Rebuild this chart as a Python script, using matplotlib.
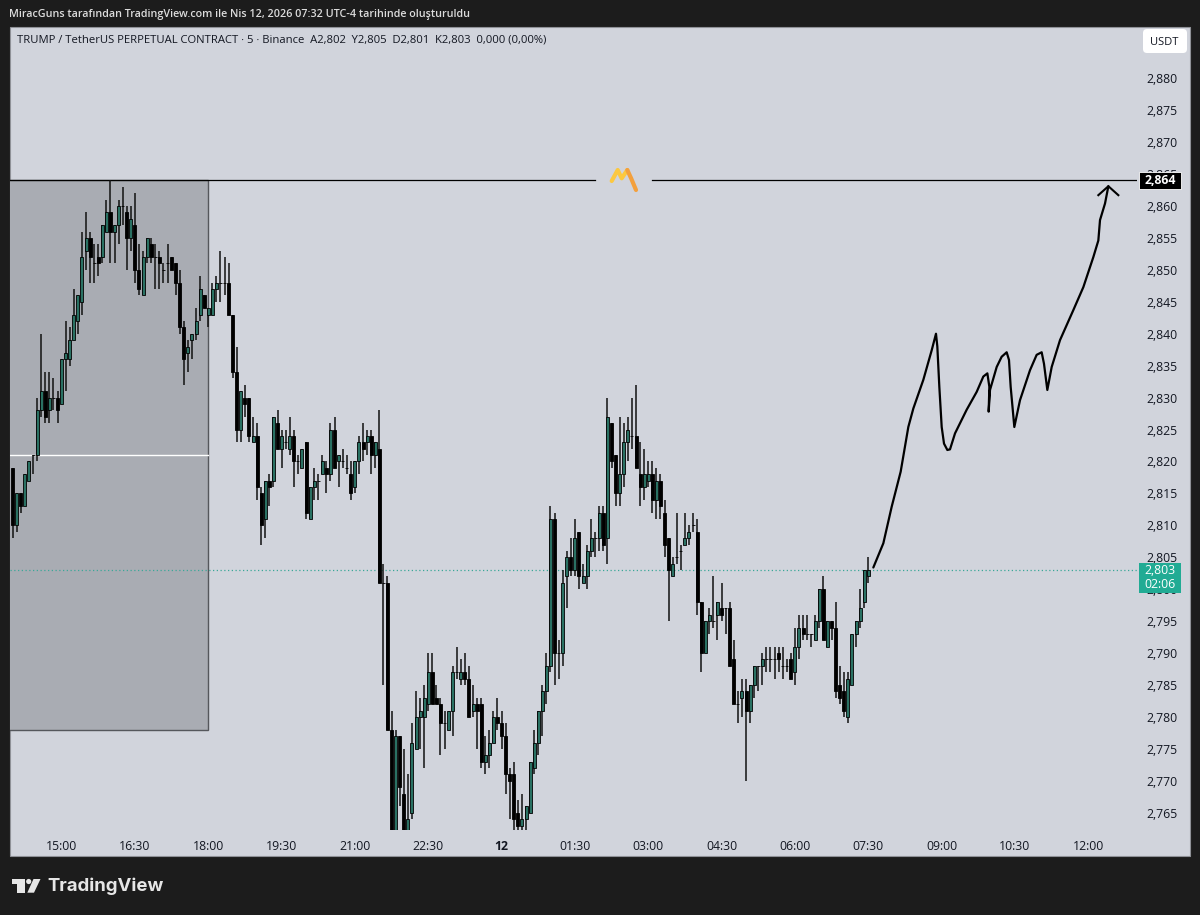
import matplotlib
matplotlib.use("Agg")
import matplotlib.pyplot as plt
from matplotlib.patches import Rectangle, Polygon, FancyBboxPatch, Circle
import numpy as np

# fiyatlar binde bir (2819 = 2,819), her mum 5 dakika, ilk mum 14:00
opens = [
    2819,2810,2815,2813,2817,2821,2821,2828,2831,2828,2830,2830,2829,2836,2836,2839,2842,2845,2853,2855,
    2851,2852,2852,2856,2859,2856,2857,2860,2859,2855,2857,2850,2846,2852,2854,2852,2852,2850,2851,2852,
    2851,2848,2841,2837,2839,2840,2843,2846,2843,2843,2847,2848,2848,2848,2843,2834,2825,2830,2830,2823,
    2824,2815,2811,2817,2817,2826,2822,2823,2822,2824,2820,2819,2823,2811,2816,2817,2818,2819,2818,2825,
    2820,2820,2819,2818,2816,2820,2823,2823,2824,2821,2822,2801,2801,2778,2760,2777,2768,2761,2765,2775,
    2780,2780,2782,2787,2783,2782,2779,2778,2781,2787,2786,2787,2786,2781,2782,2782,2773,2774,2776,2780,
    2779,2777,2771,2771,2765,2763,2764,2765,2772,2776,2781,2784,2788,2811,2790,2790,2802,2805,2803,2809,
    2801,2802,2806,2808,2808,2812,2808,2826,2821,2815,2818,2823,2824,2824,2818,2816,2817,2818,2814,2817,
    2812,2808,2802,2805,2806,2807,2808,2810,2809,2798,2790,2795,2795,2796,2797,2797,2797,2789,2782,2783,
    2784,2781,2785,2788,2788,2789,2789,2789,2790,2788,2788,2789,2787,2791,2794,2793,2793,2792,2795,2800,
    2791,2795,2794,2785,2784,2780,2785,2793,2795,2798,2802]
highs = [
    2819,2815,2815,2818,2820,2821,2830,2840,2834,2834,2833,2831,2836,2842,2841,2847,2846,2856,2859,2856,
    2854,2854,2857,2861,2864,2857,2861,2863,2860,2860,2862,2854,2853,2855,2855,2854,2853,2851,2854,2852,
    2851,2850,2842,2839,2840,2844,2849,2846,2844,2848,2849,2853,2852,2851,2843,2838,2831,2832,2830,2827,
    2826,2816,2817,2818,2827,2828,2825,2825,2827,2825,2821,2822,2823,2816,2819,2818,2821,2820,2826,2827,
    2821,2822,2821,2820,2820,2824,2826,2825,2825,2823,2828,2804,2802,2781,2778,2777,2775,2771,2779,2784,
    2783,2785,2790,2790,2785,2783,2781,2781,2788,2791,2789,2790,2788,2785,2783,2783,2777,2778,2781,2783,
    2781,2779,2772,2773,2767,2768,2766,2773,2778,2781,2785,2790,2813,2812,2792,2803,2806,2808,2811,2809,
    2804,2807,2811,2809,2813,2813,2830,2826,2821,2827,2826,2827,2830,2832,2823,2822,2820,2820,2819,2818,
    2814,2808,2805,2812,2807,2812,2810,2812,2811,2798,2795,2797,2802,2798,2801,2797,2798,2792,2784,2786,
    2786,2785,2788,2788,2790,2791,2791,2791,2791,2791,2789,2790,2794,2796,2796,2796,2793,2796,2800,2802,
    2795,2795,2798,2788,2787,2787,2793,2795,2800,2803,2805]
lows = [
    2808,2809,2812,2813,2817,2818,2820,2827,2826,2826,2828,2826,2829,2831,2835,2839,2840,2843,2850,2848,
    2848,2849,2851,2856,2851,2851,2854,2857,2850,2853,2848,2846,2846,2851,2851,2847,2847,2848,2848,2850,
    2846,2840,2832,2834,2836,2839,2842,2844,2841,2843,2845,2845,2846,2843,2833,2823,2823,2827,2823,2823,
    2814,2807,2808,2813,2816,2822,2819,2822,2821,2816,2818,2819,2811,2811,2814,2814,2818,2815,2817,2819,
    2816,2819,2818,2814,2815,2818,2820,2821,2818,2819,2801,2785,2778,2758,2760,2766,2760,2760,2764,2775,
    2775,2772,2781,2782,2782,2774,2775,2778,2777,2786,2785,2785,2780,2780,2775,2772,2771,2772,2776,2778,
    2775,2768,2764,2762,2762,2762,2762,2765,2771,2774,2777,2782,2787,2785,2786,2788,2797,2802,2802,2800,
    2801,2800,2805,2805,2806,2806,2804,2819,2813,2813,2816,2820,2822,2819,2813,2814,2816,2812,2811,2811,
    2805,2795,2802,2804,2803,2807,2807,2809,2796,2787,2790,2793,2794,2792,2795,2793,2788,2782,2779,2780,
    2770,2779,2783,2784,2785,2787,2787,2786,2787,2786,2787,2786,2785,2789,2792,2792,2791,2792,2794,2792,
    2791,2792,2783,2782,2780,2779,2785,2791,2794,2797,2801]
closes = [
    2810,2815,2813,2818,2820,2821,2828,2831,2827,2830,2830,2828,2836,2837,2839,2843,2846,2852,2855,2852,
    2851,2851,2857,2859,2856,2857,2860,2860,2855,2858,2850,2847,2852,2855,2852,2852,2851,2850,2851,2850,
    2848,2841,2836,2838,2840,2842,2847,2844,2844,2847,2848,2848,2848,2843,2834,2825,2831,2829,2824,2824,
    2816,2810,2817,2816,2827,2822,2824,2823,2824,2820,2820,2822,2812,2816,2817,2817,2820,2818,2825,2819,
    2821,2820,2819,2815,2820,2823,2822,2824,2821,2823,2801,2801,2778,2760,2777,2769,2760,2764,2776,2780,
    2781,2783,2787,2782,2782,2779,2779,2781,2787,2787,2787,2786,2780,2782,2781,2773,2774,2776,2780,2779,
    2777,2771,2770,2764,2763,2764,2766,2773,2776,2781,2784,2788,2811,2790,2790,2801,2805,2803,2808,2802,
    2802,2806,2808,2808,2812,2807,2827,2820,2815,2818,2823,2825,2824,2819,2816,2818,2818,2814,2817,2813,
    2807,2803,2804,2805,2806,2808,2809,2810,2798,2790,2795,2796,2795,2798,2796,2797,2788,2782,2782,2784,
    2781,2785,2788,2788,2789,2789,2789,2789,2789,2788,2788,2786,2791,2794,2793,2793,2793,2795,2800,2792,
    2795,2794,2784,2783,2781,2786,2793,2795,2797,2803,2803]

time_ticks = [12, 30, 48, 66, 84, 102, 120, 138, 156, 174, 192, 210, 228, 246, 264]
time_labels = ["15:00", "16:30", "18:00", "19:30", "21:00", "22:30", "12", "01:30",
               "03:00", "04:30", "06:00", "07:30", "09:00", "10:30", "12:00"]
price_ticks = list(range(2765, 2885, 5))

level_price = 2864
last_price = 2803
box_start, box_end = -2, 48
box_top, box_bottom = 2864, 2778
box_mid = 2821
level_gap = [142.9, 156.9]

# elle cizilen ok (mum sirasi, fiyat)
draw_x = [211.25, 213.71, 215.75, 217.96, 219.84, 221.07, 223.53, 225.57, 226.63, 226.96, 227.45, 228.03,
          228.6, 229.42, 230.07, 231.3, 234.16, 236.62, 238.25, 239.24, 239.73, 239.56, 239.89, 241.53,
          242.75, 243.98, 244.55, 244.96, 245.86, 247.25, 249.71, 251.34, 252.57, 253.14, 253.96, 255.03,
          257.07, 260.34, 262.8, 265.25, 266.48, 266.89, 268.12, 268.94]
draw_y = [2803.4, 2807.2, 2812.9, 2818.4, 2825.4, 2828.3, 2832.8, 2837.4, 2840.0, 2838, 2831.7, 2825.4,
          2822.8, 2821.8, 2821.9, 2824.4, 2828.1, 2830.9, 2833.3, 2833.8, 2831.7, 2827.8, 2831.2, 2834.8,
          2836.4, 2837.1, 2835.9, 2831.7, 2825.4, 2829.6, 2834.3, 2836.7, 2837.1, 2835.3, 2831.2, 2834.8,
          2839, 2843.7, 2847.3, 2852, 2854.6, 2857.8, 2860.4, 2863.1]
head_x = [266.48, 268.94, 271.39]
head_y = [2861.7, 2863.1, 2861.7]

dark = "#1c1c1c"
pane = "#d1d4dc"
teal = "#2a7163"
text_col = "#131722"
W, H = 1200, 915

plt.rcParams['font.family'] = ['Open Sans', 'DejaVu Sans']

fig = plt.figure(figsize=(12, 9.15), dpi=100, facecolor=dark)
fig.add_artist(Rectangle((10 / W, 1 - 856 / H), 1180 / W, 829 / H, transform=fig.transFigure,
                         facecolor=pane, edgecolor="#8f9197", linewidth=0.8, zorder=-1))

ax = fig.add_axes([10 / W, 1 - 830 / H, 1127 / W, 803 / H])
ax.patch.set_alpha(0)
ax.set_xlim(-0.66, 275.97)
ax.set_ylim(2762.3, 2888.03)
for s in ax.spines.values():
    s.set_visible(False)

ax.add_patch(Rectangle((box_start, box_bottom), box_end - box_start, box_top - box_bottom,
                       facecolor="#a9acb3", edgecolor="#55575c", linewidth=1, zorder=1))
ax.plot([box_start, box_end], [box_mid, box_mid], color="white", linewidth=1, zorder=1.5)
ax.plot([-0.66, level_gap[0]], [level_price, level_price], color="black", linewidth=0.9, zorder=1.6)
ax.plot([level_gap[1], 275.97], [level_price, level_price], color="black", linewidth=0.9, zorder=1.6)
ax.axhline(last_price, color="#3aa898", linewidth=0.9, linestyle=(0, (1, 2)), zorder=1.7)

x = np.arange(len(opens))
o = np.array(opens)
c = np.array(closes)
ax.vlines(x, lows, highs, color="#111111", linewidth=1.1, zorder=2)
colors = [teal if b > a else "black" for a, b in zip(o, c)]
ax.bar(x, c - o, bottom=o, width=0.74, color=colors, edgecolor="black", linewidth=0.6, zorder=3)

ax.plot(draw_x, draw_y, color="black", linewidth=1.6, solid_joinstyle="round", solid_capstyle="round", zorder=4)
ax.plot(head_x, head_y, color="black", linewidth=1.5, solid_joinstyle="miter", zorder=4)

ax.set_xticks(time_ticks)
ax.set_xticklabels(time_labels)
ax.tick_params(axis="x", length=0, pad=7, labelsize=8.8, labelcolor=text_col)
ax.get_xticklabels()[6].set_fontweight("bold")
ax.yaxis.tick_right()
ax.set_yticks(price_ticks)
ax.set_yticklabels([f"{p / 1000:.3f}".replace(".", ",") for p in price_ticks])
ax.tick_params(axis="y", length=0, pad=6.5, labelsize=8.8, labelcolor=text_col)

# fiyat etiketleri
ytr = ax.get_yaxis_transform()
ax.add_patch(Rectangle((1 + 2 / 1127, level_price - 1.33), 42 / 1127, 2.66, transform=ytr, clip_on=False,
                       facecolor="black", edgecolor="white", linewidth=0.6, zorder=5))
ax.text(1 + 23 / 1127, level_price, f"{level_price / 1000:.3f}".replace(".", ","), transform=ytr, ha="center",
        va="center", color="white", fontsize=8.8, fontweight="bold", clip_on=False, zorder=6)
ax.add_patch(Rectangle((1 + 2 / 1127, last_price - 3.6), 42 / 1127, 4.7, transform=ytr, clip_on=False,
                       facecolor="#21ab94", edgecolor="none", zorder=5))
ax.text(1 + 23 / 1127, last_price - 0.1, f"{last_price / 1000:.3f}".replace(".", ","), transform=ytr, ha="center",
        va="center", color="white", fontsize=8.8, clip_on=False, zorder=6)
ax.text(1 + 23 / 1127, last_price - 2.2, "02:06", transform=ytr, ha="center",
        va="center", color="white", fontsize=8.8, clip_on=False, zorder=6)

# piksel katmani: baslik, logo, USDT
top = fig.add_axes([0, 0, 1, 1], zorder=5)
top.set_xlim(0, W)
top.set_ylim(H, 0)
top.axis("off")
top.patch.set_alpha(0)

top.text(9, 14, "MiracGuns tarafından TradingView.com ile Nis 12, 2026 07:32 UTC-4 tarihinde oluşturuldu",
         color="#dcdcdc", fontsize=7.75, va="center", ha="left", fontweight="semibold")
top.text(17, 40.5, "TRUMP / TetherUS PERPETUAL CONTRACT · 5 · Binance  A2,802  Y2,805  D2,801  K2,803  0,000 (0,00%)",
         color=text_col, fontsize=8.1, va="center", ha="left")

top.add_patch(FancyBboxPatch((1145, 31), 40, 20, boxstyle="round,pad=2,rounding_size=4",
                             facecolor="white", edgecolor="none"))
top.text(1164.5, 42.5, "USDT", color=text_col, fontsize=8, ha="center", va="center")

# gradyan M isareti
top.plot([611.7, 617.7, 621.7, 627.3], [181, 170, 178.3, 170], color="#fcc840", linewidth=3,
         solid_joinstyle="round", solid_capstyle="round")
top.plot([627.3, 631, 636], [170, 178, 190], color="#f3a03d", linewidth=3, solid_capstyle="round")

# TradingView logosu
logo = "#e6e6e6"
top.add_patch(Polygon([(11.7, 879), (25, 879), (25, 892.7), (17.3, 892.7), (17.3, 884), (11.7, 884)],
                      closed=True, facecolor=logo, edgecolor="none"))
top.add_patch(Circle((28.7, 881.5), 2.6, facecolor=logo, edgecolor="none"))
top.add_patch(Polygon([(33.5, 879), (40.5, 879), (34, 892.7), (27.3, 892.7)],
                      closed=True, facecolor=logo, edgecolor="none"))
top.text(47, 886, "TradingView", color=logo, fontsize=13.4, fontweight="bold", family="Inter",
         ha="left", va="center")

fig.savefig("out.png", dpi=100, facecolor=dark)
